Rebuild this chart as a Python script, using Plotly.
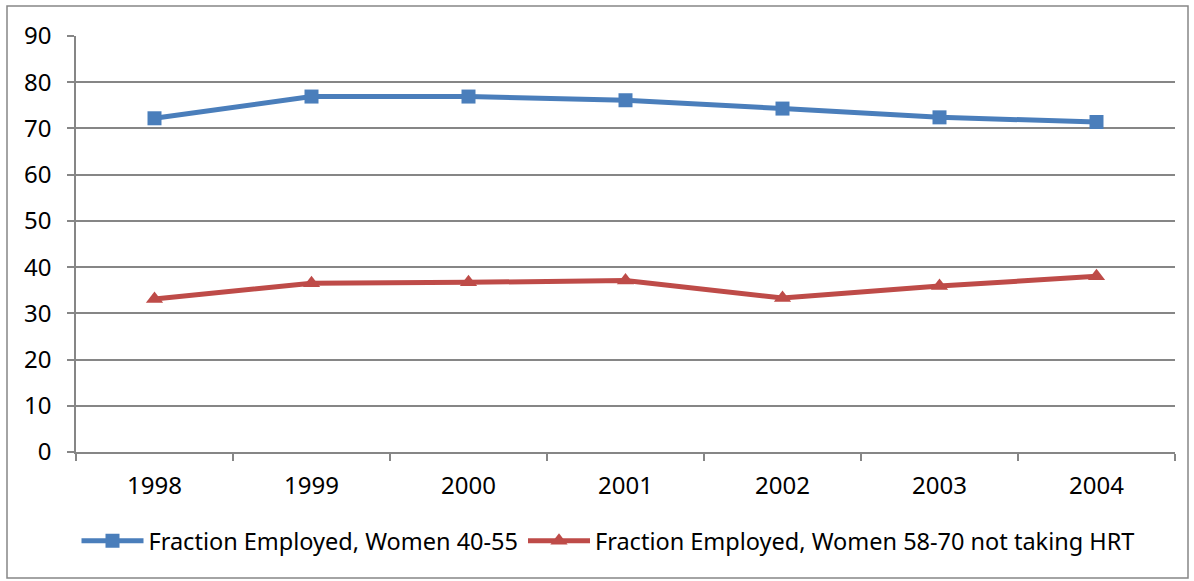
import plotly.graph_objects as go

years = ["1998", "1999", "2000", "2001", "2002", "2003", "2004"]
women_40_55 = [72.2, 76.9, 76.9, 76.1, 74.3, 72.4, 71.4]
women_58_70 = [33.1, 36.5, 36.7, 37.1, 33.3, 35.9, 38.0]
y_ticks = [0, 10, 20, 30, 40, 50, 60, 70, 80, 90]

FONT = "Noto Sans"
fig = go.Figure()
fig.add_trace(go.Scatter(
    x=years, y=women_40_55, mode="lines+markers",
    name="Fraction Employed, Women 40-55",
    line=dict(color="#4A7EBB", width=5),
    marker=dict(symbol="square", size=14, color="#4A7EBB"),
))
fig.add_trace(go.Scatter(
    x=years, y=women_58_70, mode="lines+markers",
    name="Fraction Employed, Women 58-70 not taking HRT",
    line=dict(color="#BE4B48", width=5),
    marker=dict(symbol="triangle-up", size=15, color="#BE4B48"),
))

fig.update_layout(
    width=1194, height=581,
    margin=dict(l=76, r=19, t=36, b=129),
    paper_bgcolor="white", plot_bgcolor="white",
    font=dict(family=FONT, size=24, color="black"),
    showlegend=True,
    legend=dict(orientation="h", x=(608 - 76) / 1099, xanchor="center", y=-0.214, yanchor="middle",
                font=dict(family=FONT, size=23.5, color="black"), itemwidth=62,
                bgcolor="rgba(0,0,0,0)"),
    shapes=[dict(type="rect", xref="paper", yref="paper",
                 x0=(7 - 76) / 1099, x1=(1188 - 76) / 1099,
                 y0=(452 - 578) / 416, y1=(452 - 6) / 416,
                 line=dict(color="#868686", width=1.5), fillcolor="rgba(0,0,0,0)")],
)
fig.update_xaxes(
    type="category", range=[-0.5, 6.5], showgrid=False,
    showline=True, linecolor="#868686", linewidth=1.5,
    ticks="outside", tickson="boundaries", ticklen=7, tickcolor="#868686", tickwidth=1.5,
    ticklabelstandoff=11, zeroline=False,
)
fig.update_yaxes(
    range=[0, 90], tickvals=y_ticks, showgrid=True, gridcolor="#868686", gridwidth=1.5,
    showline=True, linecolor="#868686", linewidth=1.5,
    ticks="outside", ticklen=7, tickcolor="#868686", tickwidth=1.5,
    ticklabelstandoff=11, zeroline=False,
)
fig.write_html("out.html", config={"displayModeBar": False},
               post_script="document.body.style.margin='0';")
